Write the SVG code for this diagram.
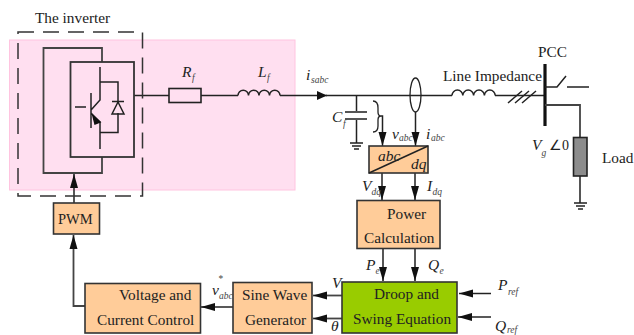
<svg xmlns="http://www.w3.org/2000/svg" width="634" height="335" viewBox="0 0 634 335">
<style>
text{font-family:"Liberation Serif","Times New Roman",serif;fill:#222}
.t{font-size:15.300px}
.i{font-style:italic;font-size:15.500px}
.s{font-style:italic;font-size:9.500px;fill:#444}
.l{fill:none;stroke:#222;stroke-width:1.5}
.g{fill:none;stroke:#444;stroke-width:1.8}
.b{fill:#ffcc99;stroke:#333;stroke-width:1.6}
</style>
<defs>
<marker id="a" markerUnits="userSpaceOnUse" markerWidth="10" markerHeight="10" refX="10" refY="5" viewBox="0 0 10 10" orient="auto"><path d="M0 0.500L10 5L0 9.500z" fill="#111"/></marker>
<marker id="h" markerUnits="userSpaceOnUse" markerWidth="14" markerHeight="10" refX="14" refY="5" viewBox="0 0 14 10" orient="auto"><path d="M0 1L14 5L0 9z" fill="#111"/></marker>
</defs>
<rect id="filter-zone" x="9.500" y="40" width="285.500" height="150" fill="#ffdff0" stroke="#ffc4e0" stroke-width="1"/>
<g id="connectors">
<path class="l" d="M134 95.500H169M201 95.500H238M280 95.500H327" marker-end="url(#a)"/>
<path class="l" d="M326 95.500H452M495 95.500H545"/>
<path class="l" d="M508 103L522 91M515 103L529 91M522 103L536 91"/>
<path class="g" d="M74 203V174" marker-end="url(#h)"/>
<path class="g" d="M85 306H73.500V235" marker-end="url(#h)"/>
<path class="l" d="M233 307H201" marker-end="url(#h)"/>
<path class="g" d="M342 295.500H313" marker-end="url(#h)"/>
<path class="g" d="M342 318.500H313" marker-end="url(#h)"/>
<path class="l" d="M491 293.500H459" marker-end="url(#h)"/>
<path class="l" d="M491 317H458" marker-end="url(#h)"/>
<path class="g" d="M383 248V281" marker-end="url(#h)"/>
<path class="g" d="M415 248V281" marker-end="url(#h)"/>
<path class="l" d="M382 173V200" marker-end="url(#h)"/>
<path class="l" d="M415 173V200" marker-end="url(#h)"/>
<path class="l" d="M381 116H382.500V146" marker-end="url(#h)"/>
<path class="l" d="M415.500 112V146" marker-end="url(#h)"/>
</g>
<g id="inverter">
<rect x="18" y="32" width="124.500" height="164" fill="none" stroke="#333" stroke-width="1.500" stroke-dasharray="16 9"/>
<path class="g" d="M102 62V48H43.500V173H102V157"/>
<rect x="70.500" y="62" width="63.500" height="95" fill="none" stroke="#333" stroke-width="1.800"/>
<path class="l" d="M100 67V100L91 110V93M91 103V128M75 107H86M91 113L100 122V149M100 82H118V102M100 132.500H118V113M112 101.500H124M118 102L112 114H124L118 102"/>
<path d="M93 116L100 122L95 124z" fill="#111" stroke="#111" stroke-width="1.500"/>
<text class="t" x="35" y="23">The inverter</text>
</g>
<g id="rf">
<rect x="169" y="88.500" width="32" height="14" fill="none" stroke="#222" stroke-width="1.600"/>
<text class="i" x="182" y="77">R</text><text class="s" x="192" y="81">f</text>
</g>
<g id="lf">
<path class="l" d="M238 95.500a5.250 5.250 0 0 1 10.500 0a5.250 5.250 0 0 1 10.500 0a5.250 5.250 0 0 1 10.500 0a5.250 5.250 0 0 1 10.500 0"/>
<text class="i" x="258" y="77">L</text><text class="s" x="267" y="81">f</text>
</g>
<text class="i" x="306" y="80">i</text><text class="s" x="311" y="83">sabc</text>
<g id="cf">
<path class="l" d="M356.500 95.500V112M356.500 119V143"/>
<path d="M345 112H367M345 119H367" fill="none" stroke="#555" stroke-width="2"/>
<path class="l" d="M350 143H363M352 146H361M354 149H359"/>
<text class="i" x="332" y="122">C</text><text class="s" x="343" y="127">f</text>
<path d="M373 101C377 101 378 104 378 108V112C378 115 379 116 381 116C379 116 378 117 378 120V126C378 130 377 132 373 132" fill="none" stroke="#222" stroke-width="1.300"/>
</g>
<g id="sensor">
<ellipse cx="415.500" cy="95" rx="5.500" ry="17" fill="none" stroke="#222" stroke-width="1.300"/>
<text class="i" x="392" y="139">v</text><text class="s" x="399" y="141">abc</text>
<text class="i" x="426" y="139">i</text><text class="s" x="431" y="141">abc</text>
</g>
<g id="line-impedance">
<path class="l" d="M452 95.500a5.400 5.400 0 0 1 10.800 0a5.400 5.400 0 0 1 10.800 0a5.400 5.400 0 0 1 10.800 0a5.400 5.400 0 0 1 10.800 0"/>
<text class="t" x="443" y="81">Line Impedance</text>
</g>
<g id="pcc">
<path d="M545 64V126" stroke="#111" stroke-width="3.200" fill="none"/>
<path class="l" d="M545 87H557L566 76M567 87H589"/>
<text class="t" x="538" y="57">PCC</text>
<text class="i" x="532" y="150">V</text><text class="s" x="541.500" y="156">g</text>
<text class="t" x="549" y="150" style="font-size:14px">∠0</text>
</g>
<g id="load">
<path class="g" d="M545 105H580V137M580 176V203"/>
<rect x="573.500" y="137.500" width="13.500" height="38.500" fill="#8c8c8c" stroke="#222" stroke-width="1.600"/>
<path class="l" d="M574 203H587M576 206H585M578 209H583"/>
<text class="t" x="602" y="163">Load</text>
</g>
<g id="abc-dq">
<rect class="b" x="369" y="146" width="59" height="27"/>
<path class="l" d="M369 173L428 146"/>
<text class="i" x="378" y="161">abc</text><text class="i" x="411" y="169">dq</text>
<text class="i" x="362" y="191">V</text><text class="s" x="371.500" y="195">dq</text>
<text class="i" x="427" y="191">I</text><text class="s" x="432.500" y="195">dq</text>
</g>
<g id="power-calculation">
<rect class="b" x="357" y="200.500" width="83" height="48"/>
<text class="t" x="387" y="219">Power</text>
<text class="t" x="364" y="243">Calculation</text>
<text class="i" x="366" y="270">P</text><text class="s" x="375.500" y="274">e</text>
<text class="i" x="428" y="270">Q</text><text class="s" x="439.500" y="274">e</text>
</g>
<g id="droop">
<rect x="342" y="282" width="115" height="51" fill="#99cc00" stroke="#333" stroke-width="1.600"/>
<text class="t" x="374" y="299">Droop and</text>
<text class="t" x="353" y="324">Swing Equation</text>
<text class="i" x="332" y="288">V</text>
<text class="i" x="331" y="331">θ</text>
<text class="i" x="498" y="290">P</text><text class="s" x="508" y="295">ref</text>
<text class="i" x="495" y="331">Q</text><text class="s" x="507" y="333">ref</text>
</g>
<g id="sine-wave">
<rect class="b" x="233" y="282.500" width="79" height="50.500"/>
<text class="t" x="242" y="300">Sine Wave</text>
<text class="t" x="245" y="325">Generator</text>
<text class="i" x="212" y="295">v</text><text class="s" x="218" y="282">*</text><text class="s" x="219" y="299">abc</text>
</g>
<g id="voltage-current">
<rect class="b" x="85" y="283.500" width="115.500" height="49.500"/>
<text class="t" x="119" y="300">Voltage and</text>
<text class="t" x="97" y="325">Current Control</text>
</g>
<g id="pwm">
<rect class="b" x="53.500" y="203" width="46" height="31"/>
<text class="t" x="58" y="224" style="font-size:14.500px">PWM</text>
</g>
</svg>
